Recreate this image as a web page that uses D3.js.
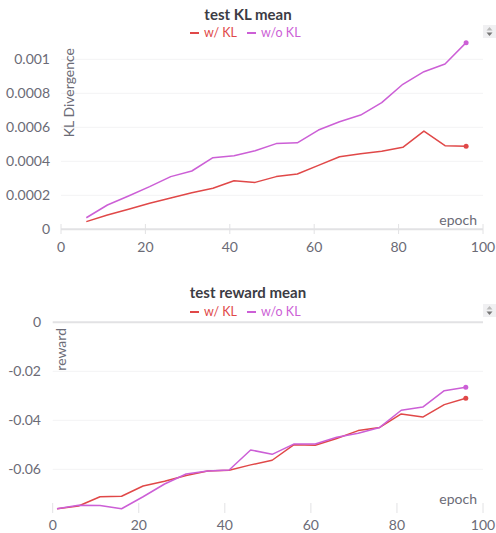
<!DOCTYPE html>
<html>
<head>
<meta charset="utf-8">
<script src="https://cdn.jsdelivr.net/npm/d3@7"></script>
<style>
  html, body { margin: 0; padding: 0; background: #fff; }
  svg { display: block; font-family: Lato, "Noto Sans", sans-serif; }
</style>
</head>
<body>
<svg id="chart" width="496" height="533"></svg>
<script>
// KL divergence per test epoch
const klEpochs = [6, 11, 16, 21, 26, 31, 36, 41, 46, 51, 56, 61, 66, 71, 76, 81, 86, 91, 96];
const klWith = [0.000045, 0.000084, 0.000118, 0.000153, 0.000184, 0.000215, 0.000241, 0.000286, 0.000276, 0.00031,
                0.000325, 0.000376, 0.000427, 0.000445, 0.000459, 0.000482, 0.000578, 0.000492, 0.000488];
const klWithout = [0.000068, 0.000143, 0.000196, 0.000251, 0.00031, 0.000343, 0.000421, 0.000433, 0.000462, 0.000504,
                   0.000509, 0.000584, 0.000633, 0.000672, 0.000745, 0.000853, 0.000927, 0.000972, 0.001098];
const klTicks = [0, 0.0002, 0.0004, 0.0006, 0.0008, 0.001];
const klTickLabels = ["0", "0.0002", "0.0004", "0.0006", "0.0008", "0.001"];

// Reward per test epoch
const rwEpochs = [1, 6, 11, 16, 21, 26, 31, 36, 41, 46, 51, 56, 61, 66, 71, 76, 81, 86, 91, 96];
const rwWith = [-0.0761, -0.0750, -0.0712, -0.0710, -0.0668, -0.0649, -0.0625, -0.0607, -0.0604, -0.0582,
                -0.0563, -0.0500, -0.0502, -0.0474, -0.0442, -0.0429, -0.0374, -0.0387, -0.0336, -0.0310];
const rwWithout = [-0.0761, -0.0747, -0.0748, -0.0761, -0.0712, -0.0660, -0.0619, -0.0607, -0.0603, -0.0521,
                   -0.0539, -0.0497, -0.0497, -0.0469, -0.0453, -0.0429, -0.0359, -0.0346, -0.0279, -0.0265];
const rwTicks = [0, -0.02, -0.04, -0.06];
const rwTickLabels = ["0", "-0.02", "-0.04", "-0.06"];

const xTicks = [0, 20, 40, 60, 80, 100];
const seriesNames = ["w/ KL", "w/o KL"];
const colors = ["#e04848", "#cc5fd6"];

const svg = d3.select("#chart");

function panel(cfg) {
  const g = svg.append("g");
  const x = d3.scaleLinear().domain([0, 100]).range(cfg.xRange);
  const y = d3.scaleLinear().domain(cfg.yDomain).range(cfg.yRange);

  // title
  g.append("text").attr("x", 248).attr("y", cfg.titleY)
    .attr("text-anchor", "middle").attr("font-size", 15).attr("font-weight", 700)
    .attr("fill", "#3c3c44").text(cfg.title);

  // legend
  const legX = [190, 247];
  seriesNames.forEach((name, i) => {
    g.append("line").attr("x1", legX[i]).attr("x2", legX[i] + 9)
      .attr("y1", cfg.legendY - 4).attr("y2", cfg.legendY - 4)
      .attr("stroke", colors[i]).attr("stroke-width", 2);
    g.append("text").attr("x", legX[i] + 14).attr("y", cfg.legendY)
      .attr("font-size", 12.5).attr("fill", colors[i]).text(name);
  });

  // scroll control
  const sy = cfg.legendY - 12;
  g.append("rect").attr("x", 483).attr("y", sy).attr("width", 13).attr("height", 13)
    .attr("fill", "#f0f0f2");
  g.append("path").attr("d", `M486.5,${sy + 5.5} l3,-3.5 l3,3.5 z`).attr("fill", "#bbb");
  g.append("path").attr("d", `M486.5,${sy + 7.5} l3,3.5 l3,-3.5 z`).attr("fill", "#777");

  // grid
  cfg.yTicks.forEach((t, i) => {
    const isZero = t === 0;
    g.append("line").attr("x1", cfg.xRange[0]).attr("x2", cfg.xRange[1])
      .attr("y1", y(t)).attr("y2", y(t))
      .attr("stroke", isZero ? "#e2e2e4" : "#f3f3f4").attr("stroke-width", isZero ? 2 : 1);
    g.append("text").attr("x", cfg.yLabelX).attr("y", y(t)).attr("dy", "0.35em")
      .attr("text-anchor", "end").attr("font-size", 14).attr("fill", "#6b6b76")
      .text(cfg.yTickLabels[i]);
  });

  // x ticks
  xTicks.forEach(t => {
    g.append("line").attr("x1", x(t)).attr("x2", x(t))
      .attr("y1", cfg.tickY[0]).attr("y2", cfg.tickY[1])
      .attr("stroke", "#e2e2e4").attr("stroke-width", 1);
    g.append("text").attr("x", x(t)).attr("y", cfg.xLabelY)
      .attr("text-anchor", "middle").attr("font-size", 14).attr("fill", "#6b6b76").text(t);
  });

  // axis titles
  g.append("text").attr("x", 477).attr("y", cfg.epochY).attr("text-anchor", "end")
    .attr("font-size", 14).attr("fill", "#6b6b76").text("epoch");
  g.append("text").attr("transform", `translate(${cfg.yTitleX},${cfg.yTitleTop}) rotate(-90)`)
    .attr("text-anchor", "end").attr("font-size", 14).attr("fill", "#6b6b76").text(cfg.yTitle);

  // series
  const line = d3.line().x(d => x(d[0])).y(d => y(d[1]));
  cfg.series.forEach((vals, i) => {
    const pts = cfg.epochs.map((e, j) => [e, vals[j]]);
    g.append("path").datum(pts).attr("d", line).attr("fill", "none")
      .attr("stroke", colors[i]).attr("stroke-width", 1.5).attr("stroke-linejoin", "round");
    const last = pts[pts.length - 1];
    g.append("circle").attr("cx", x(last[0])).attr("cy", y(last[1])).attr("r", 2.5).attr("fill", colors[i]);
  });
}

panel({
  title: "test KL mean", titleY: 20, legendY: 37,
  xRange: [61, 483], yDomain: [0, 0.001], yRange: [229.3, 59.3],
  yTicks: klTicks, yTickLabels: klTickLabels, yLabelX: 50,
  tickY: [224, 234], xLabelY: 252, epochY: 225,
  yTitle: "KL Divergence", yTitleX: 74, yTitleTop: 48,
  epochs: klEpochs, series: [klWith, klWithout]
});

panel({
  title: "test reward mean", titleY: 298, legendY: 316,
  xRange: [52.7, 483], yDomain: [-0.08, 0], yRange: [518.3, 322.3],
  yTicks: rwTicks, yTickLabels: rwTickLabels, yLabelX: 41,
  tickY: [503, 513], xLabelY: 530, epochY: 504,
  yTitle: "reward", yTitleX: 66, yTitleTop: 328,
  epochs: rwEpochs, series: [rwWith, rwWithout]
});
</script>
</body>
</html>
